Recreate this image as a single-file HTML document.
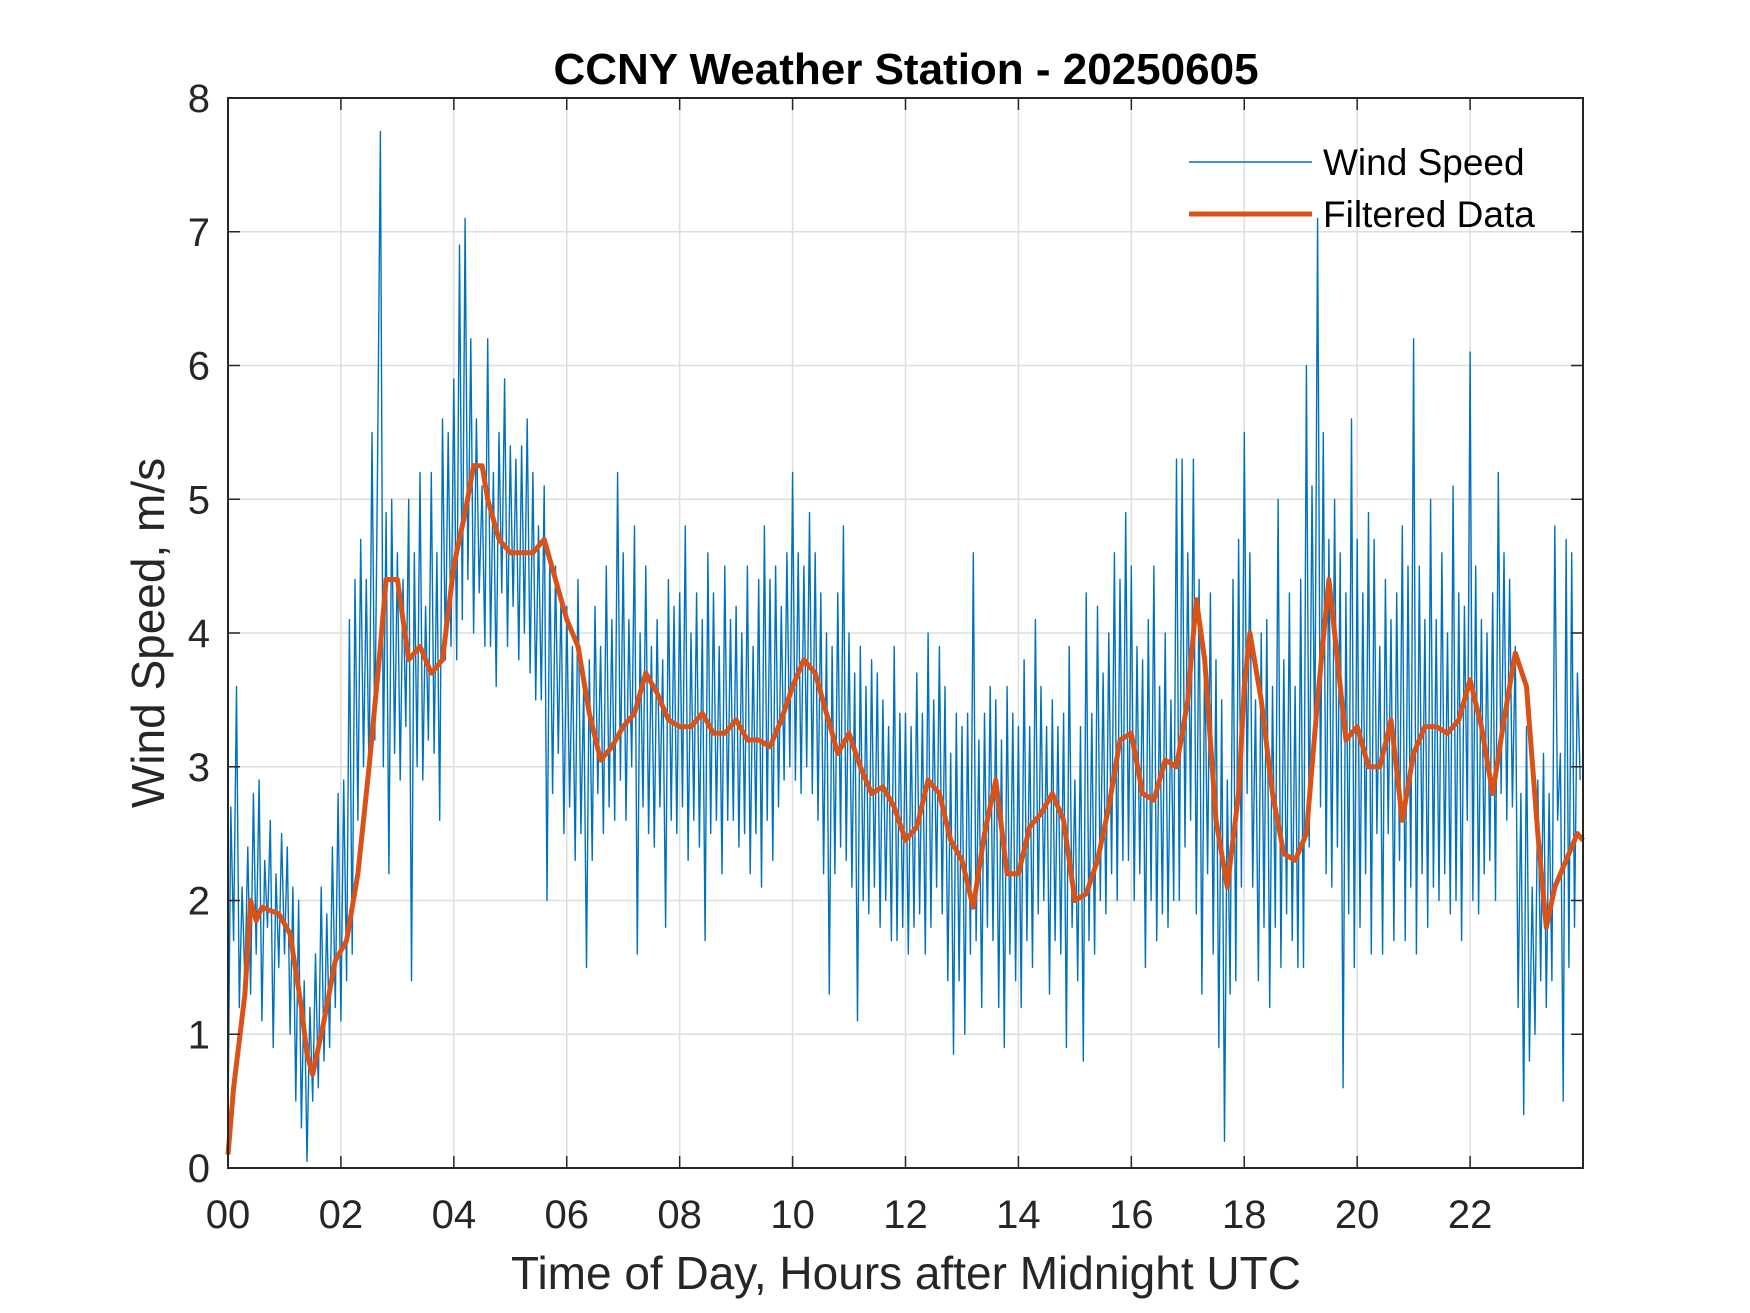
<!DOCTYPE html>
<html><head><meta charset="utf-8"><style>
html,body{margin:0;padding:0;background:#fff;}
svg{display:block;font-family:"Liberation Sans",Arial,sans-serif;}
</style></head><body>
<svg id="chart" width="1750" height="1313" viewBox="0 0 1750 1313" xmlns="http://www.w3.org/2000/svg">
<rect x="0" y="0" width="1750" height="1313" fill="#fff"/>
<g id="grid"></g>
<g id="series"></g>
<g id="axes"></g>
<text x="906" y="84" text-anchor="middle" font-size="44" font-weight="bold" fill="#000">CCNY Weather Station - 20250605</text>
<text x="906" y="1289" text-anchor="middle" font-size="46" fill="#262626">Time of Day, Hours after Midnight UTC</text>
<text transform="translate(164,633) rotate(-90)" text-anchor="middle" font-size="46" fill="#262626">Wind Speed, m/s</text>
<g>
<line x1="1189" y1="162" x2="1312" y2="162" stroke="#0072BD" stroke-width="1.5"/>
<text x="1323" y="175" font-size="37" fill="#000">Wind Speed</text>
<line x1="1189" y1="214" x2="1312" y2="214" stroke="#D95319" stroke-width="5"/>
<text x="1323" y="227" font-size="37" fill="#000">Filtered Data</text>
</g>
</svg>
<script>
const xTicks=[0,2,4,6,8,10,12,14,16,18,20,22];
const xTickLabels=["00","02","04","06","08","10","12","14","16","18","20","22"];
const yTicks=[0,1,2,3,4,5,6,7,8];
const windStep=0.05;
const windSpeed=[
0.3,2.7,1.7,3.6,1.2,2.1,1.4,2.4,1.3,2.8,1.6,2.9,1.1,2.3,1.8,2.6,0.9,2.2,1.5,2.5,
1.6,2.4,1.0,2.1,0.5,2.0,0.3,1.4,0.05,1.2,0.5,1.6,0.6,2.1,0.8,1.9,0.9,2.4,1.2,2.8,
1.1,2.9,1.4,4.1,1.6,4.4,2.6,4.7,3.0,4.4,2.9,5.5,3.2,5.3,7.75,3.0,4.9,2.2,5.0,3.1,
4.6,2.9,4.4,3.3,5.0,1.4,4.6,3.0,5.2,2.9,4.2,3.2,5.2,3.1,4.6,2.6,5.6,3.8,5.5,3.9,
5.9,3.8,6.9,4.1,7.1,4.4,6.2,4.0,5.6,4.3,5.1,3.9,6.2,3.9,5.2,3.6,5.5,4.3,5.9,3.9,
5.4,4.2,5.3,3.8,5.4,4.0,5.6,3.7,5.2,3.5,4.8,3.5,5.1,2.0,4.6,2.8,4.5,3.1,4.3,2.5,
4.2,2.7,3.9,2.3,4.4,2.5,3.6,1.5,3.8,2.3,4.2,2.8,3.9,2.5,4.5,2.7,4.1,2.6,5.2,2.9,
4.6,2.6,4.1,3.0,4.8,1.6,4.0,2.7,4.5,2.5,3.9,2.4,4.1,2.7,3.8,1.8,4.4,2.6,4.2,2.5,
4.3,2.7,4.8,2.3,4.0,2.6,4.3,2.4,4.1,1.7,4.6,2.5,4.3,2.6,3.9,2.2,4.5,2.6,4.1,2.6,
4.2,2.4,4.0,2.5,4.5,2.2,3.9,2.5,4.4,2.1,4.8,2.6,4.4,2.3,4.5,2.7,4.2,2.9,4.6,3.0,
5.2,2.9,4.6,2.8,4.5,3.0,4.9,2.8,4.6,2.6,4.3,2.2,4.0,1.3,3.9,2.2,4.3,2.4,4.8,2.3,
4.0,2.1,3.7,1.1,3.9,2.0,3.6,1.9,3.8,2.1,3.7,1.8,3.5,2.0,3.3,1.7,3.9,1.7,3.4,1.8,
3.4,1.6,3.3,1.8,3.7,1.9,3.4,1.6,4.0,1.8,3.5,2.1,3.9,1.9,3.6,1.4,3.1,0.85,3.4,1.4,
3.3,1.0,3.4,1.6,4.6,1.7,3.2,1.2,3.4,1.8,3.6,1.7,3.5,1.2,3.2,0.9,3.6,1.6,3.4,1.4,
3.3,1.2,3.8,1.7,3.3,1.5,4.1,1.9,3.6,2.0,3.3,1.3,3.5,1.7,3.3,1.6,3.4,0.9,3.9,1.8,
2.9,1.4,3.3,0.8,4.3,1.7,3.4,1.6,4.2,2.0,3.7,1.9,4.0,2.2,4.6,2.0,4.4,2.3,4.9,2.3,
4.5,2.0,3.9,2.2,3.8,1.5,4.1,2.0,4.5,1.7,3.6,1.9,4.0,1.8,3.5,2.0,5.3,2.0,5.3,2.4,
4.6,2.6,5.3,1.9,4.4,1.3,3.9,2.2,4.3,1.6,3.8,0.9,3.5,0.2,2.9,1.3,4.4,1.4,4.7,2.1,
5.5,2.8,4.6,2.1,3.5,1.4,4.0,1.8,4.1,1.2,3.6,1.8,5.0,1.5,3.8,1.9,4.3,1.7,3.6,1.5,
4.4,1.5,6.0,2.4,5.1,3.1,7.1,2.7,5.5,2.2,4.7,2.1,5.0,2.4,4.6,0.6,4.3,1.9,5.6,1.5,
4.7,1.8,4.3,2.2,4.9,1.6,4.7,2.5,3.9,1.6,4.4,2.5,4.1,1.7,4.3,2.3,4.8,1.7,4.5,2.1,
6.2,1.6,4.5,2.2,4.1,1.8,5.0,2.1,4.1,2.0,4.6,2.2,4.0,1.9,5.1,2.0,4.3,1.7,4.2,2.6,
6.1,2.0,4.5,1.9,4.1,2.2,4.0,2.3,4.3,2.0,5.2,2.8,4.6,2.6,4.4,2.7,3.9,1.2,2.8,0.4,
3.3,0.8,2.1,1.0,2.9,1.4,3.1,1.2,2.8,1.4,4.8,2.6,3.1,0.5,4.7,1.5,4.6,1.8,3.7,2.9
];
const filtHours=[0,0.1,0.3,0.4,0.5,0.6,0.9,1.1,1.3,1.4,1.5,1.7,1.9,2.1,2.3,2.5,2.7,2.8,3.0,3.1,3.2,3.4,3.6,3.8,4.0,4.2,4.35,4.5,4.6,4.8,5.0,5.2,5.4,5.6,5.8,6.0,6.2,6.4,6.6,6.8,7.0,7.2,7.4,7.6,7.8,8.0,8.2,8.4,8.6,8.8,9.0,9.2,9.4,9.6,9.8,10.0,10.2,10.4,10.6,10.8,11.0,11.2,11.4,11.6,11.8,12.0,12.2,12.4,12.6,12.8,13.0,13.2,13.4,13.6,13.8,14.0,14.2,14.4,14.6,14.8,15.0,15.2,15.4,15.6,15.8,16.0,16.2,16.4,16.6,16.8,17.0,17.15,17.3,17.5,17.7,17.9,18.0,18.1,18.3,18.5,18.7,18.9,19.1,19.3,19.5,19.6,19.8,20.0,20.2,20.4,20.6,20.8,21.0,21.2,21.4,21.6,21.8,22.0,22.2,22.4,22.6,22.8,23.0,23.2,23.35,23.5,23.7,23.9,24.0];
const filtValues=[0.1,0.6,1.3,2.0,1.85,1.95,1.9,1.75,1.2,0.85,0.7,1.1,1.55,1.7,2.2,3.0,3.9,4.4,4.4,4.1,3.8,3.9,3.7,3.8,4.5,4.9,5.25,5.25,5.0,4.7,4.6,4.6,4.6,4.7,4.4,4.1,3.9,3.4,3.05,3.15,3.3,3.4,3.7,3.55,3.35,3.3,3.3,3.4,3.25,3.25,3.35,3.2,3.2,3.15,3.35,3.6,3.8,3.7,3.4,3.1,3.25,3.0,2.8,2.85,2.7,2.45,2.55,2.9,2.8,2.45,2.3,1.95,2.5,2.9,2.2,2.2,2.55,2.65,2.8,2.6,2.0,2.05,2.3,2.7,3.2,3.25,2.8,2.75,3.05,3.0,3.5,4.25,3.8,2.6,2.1,2.8,3.6,4.0,3.5,2.8,2.35,2.3,2.5,3.5,4.4,4.0,3.2,3.3,3.0,3.0,3.35,2.6,3.1,3.3,3.3,3.25,3.35,3.65,3.3,2.8,3.35,3.85,3.6,2.5,1.8,2.1,2.3,2.5,2.45];

const L=228,R=1583,T=98,B=1168,XMAX=24,YMAX=8;
function sx(h){return L+(h/XMAX)*(R-L);}
function sy(v){return B-(v/YMAX)*(B-T);}
const NS="http://www.w3.org/2000/svg";
function mk(tag,attrs,parent){const e=document.createElementNS(NS,tag);for(const k in attrs)e.setAttribute(k,attrs[k]);parent.appendChild(e);return e;}
const grid=document.getElementById('grid'),axes=document.getElementById('axes'),series=document.getElementById('series');
xTicks.forEach((t,i)=>{
  if(t>0){const g=mk('line',{x1:sx(t),x2:sx(t),y1:T,y2:B,stroke:'#dedede','stroke-width':1.5},grid);
  
  }
  const a=mk('line',{x1:sx(t),x2:sx(t),y1:B,y2:B-12,stroke:'#262626','stroke-width':1.5},axes);
  
  
  const b=mk('line',{x1:sx(t),x2:sx(t),y1:T,y2:T+12,stroke:'#262626','stroke-width':1.5},axes);
  
  
  const tx=mk('text',{x:sx(t),y:1228,'text-anchor':'middle','font-size':40,fill:'#262626'},axes);
  tx.textContent=xTickLabels[i];
  
  
});
yTicks.forEach(t=>{
  if(t>0&&t<YMAX){const g=mk('line',{x1:L,x2:R,y1:sy(t),y2:sy(t),stroke:'#dedede','stroke-width':1.5},grid);
  
  }
  const a=mk('line',{x1:L,x2:L+12,y1:sy(t),y2:sy(t),stroke:'#262626','stroke-width':1.5},axes);
  
  
  const b=mk('line',{x1:R,x2:R-12,y1:sy(t),y2:sy(t),stroke:'#262626','stroke-width':1.5},axes);
  
  
  const tx=mk('text',{x:210,y:sy(t)+14,'text-anchor':'end','font-size':40,fill:'#262626'},axes);
  tx.textContent=String(t);
  
  
});
const frame=mk('rect',{x:L,y:T,width:R-L,height:B-T,fill:'none',stroke:'#262626','stroke-width':2},axes);


let d='';windSpeed.forEach((v,i)=>{d+=(i?'L':'M')+sx(i*windStep).toFixed(1)+','+sy(v).toFixed(1);});
const w=mk('path',{d:d,fill:'none',stroke:'#0072BD','stroke-width':1.4,'stroke-linejoin':'round'},series);


let f='';filtHours.forEach((h,i)=>{f+=(i?'L':'M')+sx(h).toFixed(1)+','+sy(filtValues[i]).toFixed(1);});
const fl=mk('path',{d:f,fill:'none',stroke:'#D95319','stroke-width':5,'stroke-linejoin':'round'},series);


</script>
</body></html>
